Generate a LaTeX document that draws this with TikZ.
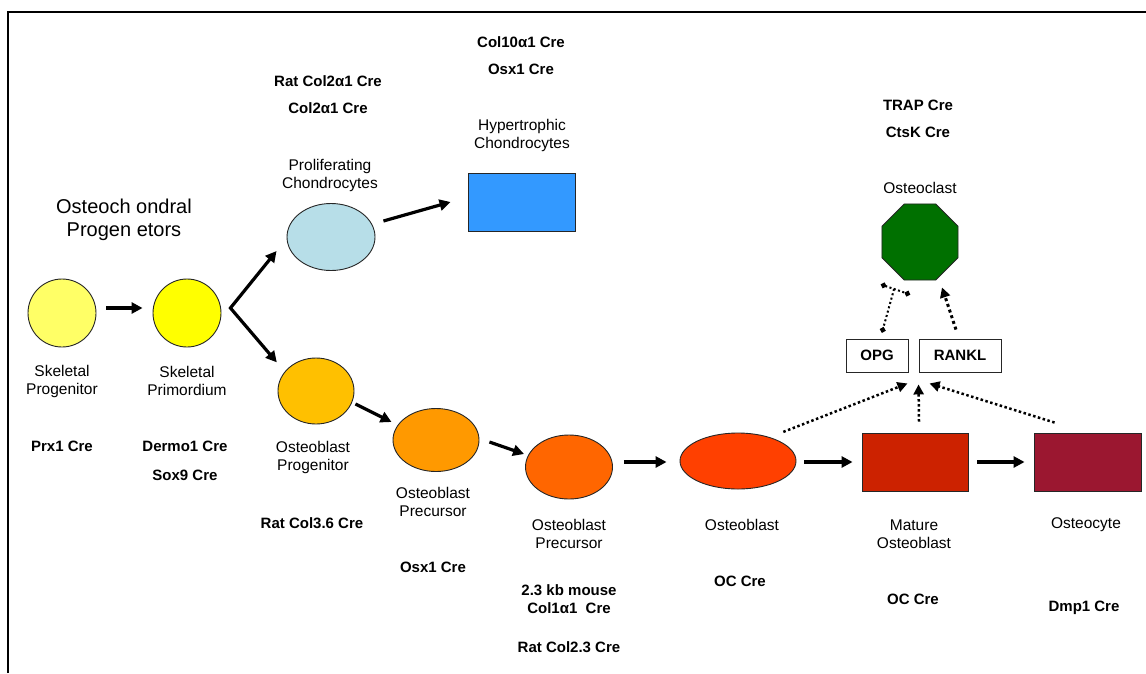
\documentclass[tikz,border=0pt]{standalone}
\usepackage{fontspec}
\setmainfont{Liberation Sans}
\usetikzlibrary{arrows.meta,shapes.geometric,calc}

\definecolor{cSkelProg}{RGB}{255,255,102}
\definecolor{cSkelPrim}{RGB}{255,255,0}
\definecolor{cProlif}{RGB}{183,222,232}
\definecolor{cHyper}{RGB}{51,153,255}
\definecolor{cObProg}{RGB}{255,192,0}
\definecolor{cObPreA}{RGB}{255,153,0}
\definecolor{cObPreB}{RGB}{255,102,0}
\definecolor{cOb}{RGB}{255,64,0}
\definecolor{cMature}{RGB}{204,34,0}
\definecolor{cOcyte}{RGB}{155,23,48}
\definecolor{cOclast}{RGB}{0,112,0}

\begin{document}
\begin{tikzpicture}[x=1pt,y=-1pt,
  cell/.style={draw=black!85,line width=0.9pt,inner sep=0pt},
  blob/.style={cell,ellipse},
  box/.style={cell,rectangle},
  lbl/.style={font=\fontsize{15.5}{18}\selectfont,align=center,inner sep=0pt},
  cre/.style={font=\fontsize{15}{18}\selectfont\bfseries,align=center,inner sep=0pt},
  flow/.style={line width=3.2pt,-{Triangle[length=11pt,width=11pt]}},
  signal/.style={line width=2.5pt,dash pattern=on 2.5pt off 2.5pt,-{Triangle[length=10pt,width=10pt]}},
  block/.style={line width=2pt,dash pattern=on 2pt off 2.5pt},
]
\useasboundingbox (0,0) rectangle (1146,673);

% open frame
\draw[line width=2pt] (8,673) -- (8,12) -- (1146,12);

% cells
\node[blob,fill=cSkelProg,minimum width=68pt,minimum height=68pt] (sp) at (62,313) {};
\node[blob,fill=cSkelPrim,minimum width=68pt,minimum height=68pt] (spr) at (187,313) {};
\node[blob,fill=cProlif,minimum width=88pt,minimum height=67pt] (prolif) at (331,237) {};
\node[box,fill=cHyper,minimum width=107pt,minimum height=58pt] (hyper) at (521.5,202) {};
\node[blob,fill=cObProg,minimum width=76pt,minimum height=66pt] (obprog) at (316,391) {};
\node[blob,fill=cObPreA,minimum width=86pt,minimum height=63pt] (obpreA) at (436,440) {};
\node[blob,fill=cObPreB,minimum width=87pt,minimum height=64pt] (obpreB) at (569,467) {};
\node[blob,fill=cOb,minimum width=116pt,minimum height=56pt] (ob) at (738,461) {};
\node[box,fill=cMature,minimum width=106pt,minimum height=58pt] (mature) at (915,462) {};
\node[box,fill=cOcyte,minimum width=107pt,minimum height=58pt] (ocyte) at (1087.5,462) {};
\node[cell,regular polygon,regular polygon sides=8,fill=cOclast,minimum size=82.3pt] (oclast) at (920,242) {};
\node[box,cre,minimum width=62pt,minimum height=33pt] (opg) at (877,355.5) {OPG};
\node[box,cre,minimum width=82pt,minimum height=33pt] (rankl) at (960,355.5) {RANKL};

% cell names
\node[lbl,font=\fontsize{20}{23}\selectfont] (title) at (124,220) {Osteoch ondral\\Progen etors};
\node[lbl] (tSp) at (62,381) {Skeletal\\Progenitor};
\node[lbl] (tSpr) at (187,381) {Skeletal\\Primordium};
\node[lbl] (tProlif) at (330,175) {Proliferating\\Chondrocytes};
\node[lbl] (tHyper) at (522,135) {Hypertrophic\\Chondrocytes};
\node[lbl] (tObProg) at (313,457) {Osteoblast\\Progenitor};
\node[lbl] (tObPreA) at (433,502) {Osteoblast\\Precursor};
\node[lbl] (tObPreB) at (569,534) {Osteoblast\\Precursor};
\node[lbl] (tOb) at (742,525) {Osteoblast};
\node[lbl] (tMature) at (914,534) {Mature\\Osteoblast};
\node[lbl] (tOcyte) at (1086,525) {Osteocyte};
\node[lbl] (tOclast) at (920,188) {Osteoclast};

% Cre drivers
\node[cre] (cPrx) at (62,446) {Prx1 Cre};
\node[cre] (cDermo) at (185,446) {Dermo1 Cre};
\node[cre] (cSox) at (185,475) {Sox9 Cre};
\node[cre] (cRatCol2) at (328,81) {Rat Col2α1 Cre};
\node[cre] (cCol2) at (328,108) {Col2α1 Cre};
\node[cre] (cCol10) at (521,42) {Col10α1 Cre};
\node[cre] (cOsxH) at (521,69) {Osx1 Cre};
\node[cre] (cCol36) at (312,523) {Rat Col3.6 Cre};
\node[cre] (cOsx) at (433,567) {Osx1 Cre};
\node[cre] (cMouse) at (569,599) {2.3 kb mouse\\Col1α1\ \ Cre};
\node[cre] (cCol23) at (569,647) {Rat Col2.3 Cre};
\node[cre] (cOcA) at (740,581) {OC Cre};
\node[cre] (cOcB) at (913,599) {OC Cre};
\node[cre] (cDmp) at (1084,608) {Dmp1 Cre};
\node[cre] (cTrap) at (918,105) {TRAP Cre};
\node[cre] (cCtsk) at (918,132) {CtsK Cre};

% lineage arrows
\coordinate (fork) at ($(spr.east)+(9,-5)$);
\draw[flow] ($(sp.east)+(10,-5)$) -- ($(spr.west)+(-10,-5)$);
\draw[flow,{Triangle[length=11pt,width=11pt]}-{Triangle[length=11pt,width=11pt]},line join=miter]
  ($(prolif.west)+(-10,14)$) -- (fork) -- ($(obprog.north west)+(-12,-5)$);
\draw[flow] ($(prolif.east)+(8,-16)$) -- ($(hyper.west)+(-17,0)$);
\draw[flow] ($(obprog.east)+(1,13)$) -- ($(obpreA.west)+(-1,-18)$);
\draw[flow] ($(obpreA.east)+(10,2)$) -- ($(obpreB.west)+(-1,-13)$);
\draw[flow] ($(obpreB.east)+(11,-5)$) -- ($(ob.west)+(-13,1)$);
\draw[flow] ($(ob.east)+(8,1)$) -- ($(mature.west)+(-9,0)$);
\draw[flow] ($(mature.east)+(9,0)$) -- ($(ocyte.west)+(-9,0)$);

% RANKL / OPG signalling
\draw[signal] ($(ob.north east)+(4,-9)$) -- ($(opg.south east)+(-1,11)$);
\draw[signal] ($(mature.north)+(4,-11)$) -- ($(rankl.south west)+(0,12)$);
\draw[signal] ($(ocyte.north west)+(21,-10)$) -- ($(rankl.south west)+(11,11)$);
\draw[signal,line width=3pt,dash pattern=on 3pt off 3pt] ($(rankl.north)+(-4,-9)$) -- ($(oclast.south)+(22,7)$);
\coordinate (barL) at ($(oclast.south)+(-39,4)$);
\coordinate (barR) at ($(oclast.south)+(-10,14)$);
\draw[block,{Circle[length=5.5pt]}-{Circle[length=5.5pt]}] (barL) -- (barR);
\draw[block,-{Circle[length=5.5pt]}] ($(barL)!0.45!(barR)$) -- ($(opg.north)+(5,-6)$);
\end{tikzpicture}
\end{document}
